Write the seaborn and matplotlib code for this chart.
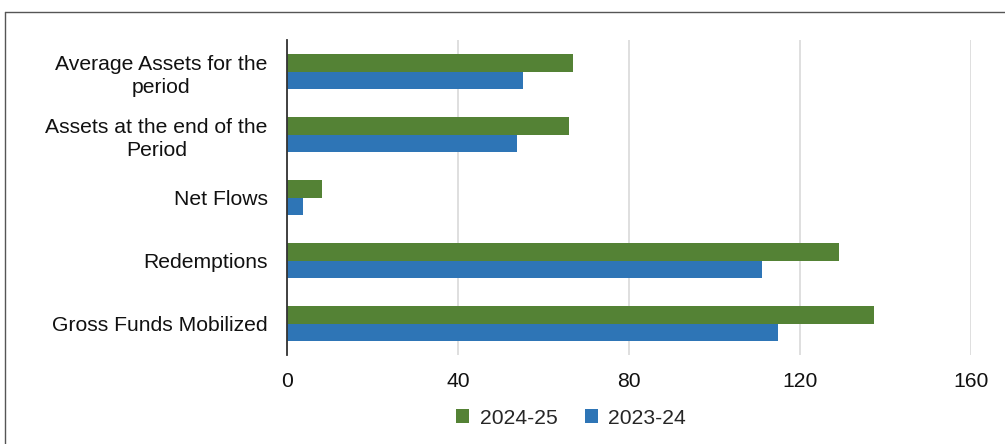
import matplotlib
matplotlib.use("Agg")
import matplotlib.pyplot as plt
from matplotlib.lines import Line2D
from matplotlib.patches import Patch
import seaborn as sns
import pandas as pd

# Mutual fund flow summary (values in lakh crore)
categories = [
    "Average Assets for the\nperiod",
    "Assets at the end of the\nPeriod",
    "Net Flows",
    "Redemptions",
    "Gross Funds Mobilized",
]
years = ["2024-25", "2023-24"]
values_2024_25 = [67.0, 66.0, 8.3, 129.1, 137.3]
values_2023_24 = [55.3, 53.7, 3.8, 111.1, 114.8]
x_ticks = [0, 40, 80, 120, 160]
colors = {"2024-25": "#548235", "2023-24": "#2E75B6"}

df = pd.DataFrame({
    "category": categories * 2,
    "year": [years[0]] * len(categories) + [years[1]] * len(categories),
    "value": values_2024_25 + values_2023_24,
})

sns.set_theme(style="white")
plt.rcParams["font.family"] = ["Liberation Sans", "DejaVu Sans"]
plt.rcParams["font.size"] = 15

fig = plt.figure(figsize=(10.05, 4.44), dpi=100)
ax = fig.add_axes([287 / 1005, 1 - 355 / 444, (971 - 287) / 1005, 315 / 444])

sns.barplot(data=df, y="category", x="value", hue="year", order=categories,
            hue_order=years, palette=colors, orient="h", width=0.54,
            saturation=1, linewidth=0, edgecolor="none",
            ax=ax, legend=False, zorder=3)

ax.set_xlim(0, 160)
ax.set_xticks(x_ticks)
ax.set_xticklabels([str(t) for t in x_ticks])
ax.set_xlabel("")
ax.set_ylabel("")
ax.grid(axis="x", color="#d9d9d9", linewidth=1.2, zorder=0)
ax.grid(axis="y", visible=False)
for side in ["top", "right", "bottom"]:
    ax.spines[side].set_visible(False)
ax.spines["left"].set_color("#333333")
ax.spines["left"].set_linewidth(1.3)
ax.spines["left"].set_zorder(4)
ax.tick_params(axis="y", length=0, pad=14, labelsize=15.2, colors="#111111")
ax.tick_params(axis="x", length=0, pad=12, labelsize=15.2, colors="#111111")
for lbl in ax.get_yticklabels():
    lbl.set_multialignment("center")
    lbl.set_linespacing(1.3)

handles = [Patch(facecolor=colors[y], edgecolor="none", label=y) for y in years]
fig.legend(handles=handles, loc="center", bbox_to_anchor=(571 / 1005, 1 - 418 / 444),
           ncol=2, frameon=False, fontsize=15.2, handlelength=0.62, handleheight=0.62,
           handletextpad=0.5, columnspacing=1.3)

# Outer frame (top and left edges)
fig.add_artist(Line2D([5 / 1005, 1.0], [1 - 12 / 444, 1 - 12 / 444],
                      color="#555555", linewidth=1.0))
fig.add_artist(Line2D([5 / 1005, 5 / 1005], [0.0, 1 - 12 / 444],
                      color="#555555", linewidth=1.0))

fig.savefig("out.png", dpi=100)
